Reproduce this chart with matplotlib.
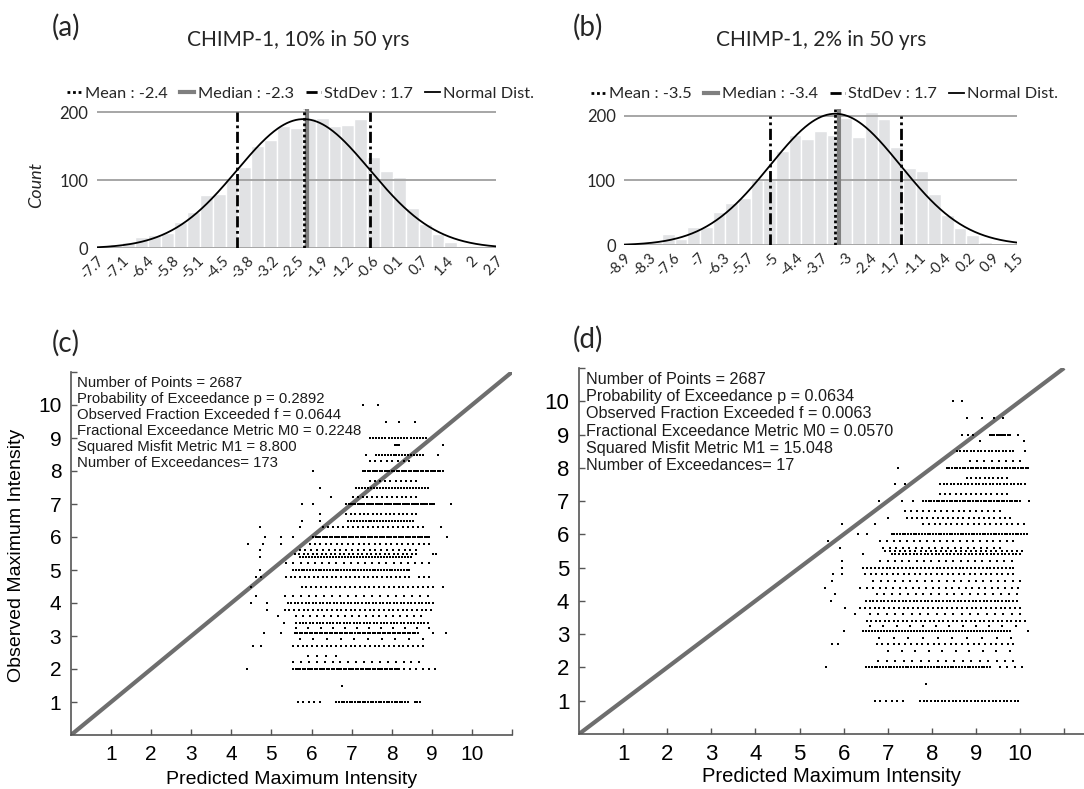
import numpy as np
import matplotlib
matplotlib.use("Agg")
import matplotlib.pyplot as plt
from matplotlib.lines import Line2D

# ---------------- data: histograms ----------------
hist_a_counts = [1, 6, 9, 16, 20, 23, 38, 54, 78, 80, 104, 119, 150, 159, 180, 177,
                 191, 191, 180, 181, 190, 134, 114, 105, 59, 36, 21, 10, 4, 1.5, 1]
hist_a_start = -7.7
hist_a_binw = 0.33
hist_a_ticklabels = ["-7.7", "-7.1", "-6.4", "-5.8", "-5.1", "-4.5", "-3.8", "-3.2", "-2.5",
                     "-1.9", "-1.2", "-0.6", "0.1", "0.7", "1.4", "2", "2.7"]
hist_a_mean, hist_a_median, hist_a_std, hist_a_peak = -2.4, -2.3, 1.7, 190

hist_b_counts = [0.5, 3.5, 5, 17, 10, 29, 28, 51, 66, 73, 101, 100, 145, 170, 164, 177,
                 170, 196, 167, 205, 195, 152, 119, 115, 79, 47, 27, 16, 4.6, 2, 0.5]
hist_b_start = -9.0
hist_b_binw = 0.33
hist_b_ticklabels = ["-8.9", "-8.3", "-7.6", "-7", "-6.3", "-5.7", "-5", "-4.4", "-3.7",
                     "-3", "-2.4", "-1.7", "-1.1", "-0.4", "0.2", "0.9", "1.5"]
hist_b_mean, hist_b_median, hist_b_std, hist_b_peak = -3.5, -3.4, 1.7, 203

# ---------------- data: scatter (c) ----------------
# each observed level: runs of predicted values (start, end, number of dots) + isolated dots
levels_c = [1.0, 1.5, 2.0, 2.2, 2.4, 2.7, 2.9, 3.1, 3.25, 3.4, 3.6, 3.8, 4.0, 4.2, 4.5, 4.8,
            5.0, 5.2, 5.4, 5.5, 5.6, 5.8, 6.0, 6.3, 6.5, 6.7, 7.0, 7.2, 7.5, 7.7, 8.0, 8.3,
            8.5, 8.8, 9.0, 9.5, 10.0]
runs_c = [
    [(5.66, 6.20, 5), (6.62, 8.40, 28), (8.57, 8.71, 3)],
    [],
    [(5.54, 8.19, 45), (8.30, 9.08, 6)],
    [(5.54, 8.69, 17)],
    [(5.90, 6.60, 4)],
    [(5.54, 8.77, 28)],
    [(5.70, 8.77, 10)],
    [(5.58, 8.65, 50)],
    [(5.62, 8.94, 12)],
    [(5.62, 8.90, 40)],
    [(5.62, 8.73, 19)],
    [(5.33, 8.98, 32)],
    [(5.41, 9.02, 42)],
    [(5.33, 8.90, 19)],
    [(5.75, 9.02, 28)],
    [(5.37, 8.44, 28), (8.69, 8.94, 3)],
    [(5.54, 8.44, 42)],
    [(5.37, 8.94, 21)],
    [(5.70, 8.48, 38)],
    [(5.58, 8.61, 28), (9.02, 9.10, 2)],
    [(5.70, 8.61, 21)],
    [(5.95, 8.94, 23)],
    [(6.04, 8.94, 50)],
    [(6.29, 8.77, 21)],
    [(6.91, 8.52, 23)],
    [(6.87, 8.61, 17)],
    [(6.87, 9.06, 40)],
    [(7.03, 8.61, 14)],
    [(7.11, 8.90, 25)],
    [(7.45, 8.61, 10)],
    [(7.28, 9.27, 34)],
    [(7.45, 8.44, 8)],
    [(7.61, 8.77, 17)],
    [(8.07, 8.19, 3)],
    [(7.45, 8.86, 19)],
    [],
    [],
]
singles_c = [
    [], [6.76], [4.39], [], [], [4.54, 4.75], [], [4.81, 5.23, 9.02, 9.35], [], [5.31],
    [5.17], [4.88], [4.50, 4.88], [4.61], [4.50, 9.27], [4.61, 4.75], [4.71], [], [4.71], [],
    [4.71], [4.42, 4.79, 5.25], [4.83, 5.25, 5.54, 9.39], [4.71, 5.70, 9.23], [5.75, 6.20],
    [6.20], [5.75, 6.04, 9.48], [6.49], [6.20], [], [6.04], [], [7.36, 9.15], [9.27], [],
    [7.86, 8.19, 8.57], [7.28, 7.65],
]
stats_c = ["Number of Points = 2687",
           "Probability of Exceedance p = 0.2892",
           "Observed Fraction Exceeded f = 0.0644",
           "Fractional Exceedance Metric M0 = 0.2248",
           "Squared Misfit Metric M1 = 8.800",
           "Number of Exceedances= 173"]

# ---------------- data: scatter (d) ----------------
levels_d = [1.0, 1.5, 2.0, 2.2, 2.5, 2.7, 2.9, 3.1, 3.25, 3.4, 3.6, 3.8, 4.0, 4.2, 4.4, 4.6,
            4.8, 5.0, 5.2, 5.4, 5.5, 5.6, 5.8, 6.0, 6.3, 6.5, 6.7, 7.0, 7.2, 7.5, 7.7, 8.0,
            8.2, 8.5, 8.8, 9.0, 9.5, 10.0]
runs_d = [
    [(6.70, 7.35, 6), (7.73, 9.96, 28)],
    [],
    [(6.51, 9.32, 45), (9.55, 10.04, 4)],
    [(6.79, 9.85, 17)],
    [(7.01, 9.77, 10)],
    [(6.75, 9.85, 25)],
    [(6.80, 9.80, 10)],
    [(6.45, 9.77, 50)],
    [(6.60, 9.90, 12)],
    [(6.52, 10.11, 36)],
    [(6.60, 10.00, 19)],
    [(6.37, 10.00, 34)],
    [(6.51, 9.92, 42)],
    [(6.75, 9.92, 19)],
    [(6.37, 9.96, 25)],
    [(6.67, 10.00, 21)],
    [(6.49, 9.85, 28)],
    [(6.45, 9.85, 40)],
    [(6.83, 9.81, 19)],
    [(7.09, 10.00, 36)],
    [(6.94, 10.04, 28)],
    [(6.90, 9.55, 19)],
    [(6.83, 9.85, 21)],
    [(7.09, 10.15, 50)],
    [(7.81, 10.08, 19)],
    [(7.43, 9.77, 21)],
    [(7.39, 9.55, 17)],
    [(7.81, 10.00, 38)],
    [(8.19, 9.70, 14)],
    [(8.19, 10.11, 25)],
    [(8.79, 9.70, 10)],
    [(8.34, 10.19, 32)],
    [(8.87, 10.00, 8)],
    [(8.56, 9.85, 17)],
    [],
    [(8.68, 8.94, 3), (9.32, 9.77, 10)],
    [],
    [],
]
singles_d = [
    [], [7.86], [5.60], [], [], [5.73, 5.88], [], [6.01, 10.19], [], [],
    [6.26], [6.02], [5.71], [5.80], [5.58], [5.73], [5.77, 5.96], [5.96], [5.96], [6.43],
    [], [5.92], [5.65], [6.33, 6.52], [5.96, 6.71], [7.01], [], [6.81, 7.32, 7.58, 10.21], [],
    [7.17, 7.39], [], [7.24], [], [10.11], [9.09, 10.08], [9.96], [8.79, 9.13, 9.40, 9.62],
    [8.49, 8.68],
]
stats_d = ["Number of Points = 2687",
           "Probability of Exceedance p = 0.0634",
           "Observed Fraction Exceeded f = 0.0063",
           "Fractional Exceedance Metric M0 = 0.0570",
           "Squared Misfit Metric M1 = 15.048",
           "Number of Exceedances= 17"]

# ---------------- styling ----------------
HFONT = ["Lato", "DejaVu Sans"]
SFONT = ["Liberation Sans", "DejaVu Sans"]
BAR_C = "#e1e2e4"
GRID_C = "#a6a6a6"
MED_C = "#7f7f7f"
TXT_C = "#262626"
STD_LS = (0, (4, 1.3, 1, 1.3))
MEAN_LS = (0, (1, 1))

fig = plt.figure(figsize=(10.84, 7.89), dpi=100)
W, H = 1084.0, 789.0


def px_axes(left, top, right, bottom):
    return fig.add_axes([left / W, 1 - bottom / H, (right - left) / W, (bottom - top) / H])


def draw_hist(ax, counts, start, binw, ticklabels, mean, median, std, peak, ytop):
    n = len(counts)
    lefts = start + binw * np.arange(n)
    ax.bar(lefts, counts, width=binw, align="edge", color=BAR_C, edgecolor="white",
           linewidth=1.0, zorder=2)
    for yv in (0, 100, 200):
        ax.axhline(yv, color=GRID_C, lw=1.4, zorder=2.5)
    end = start + binw * n
    xs = np.linspace(start, end, 400)
    ax.plot(xs, peak * np.exp(-0.5 * ((xs - mean) / std) ** 2), color="black", lw=1.3, zorder=5)
    ax.axvline(median, color=MED_C, lw=3.0, zorder=4)
    ax.axvline(mean, color="black", lw=2.0, ls=MEAN_LS, zorder=4.5)
    ax.axvline(mean - std, ymax=200 / ytop, color="black", lw=2.0, ls=STD_LS, zorder=4.5)
    ax.axvline(mean + std, ymax=200 / ytop, color="black", lw=2.0, ls=STD_LS, zorder=4.5)
    ax.set_xlim(start, end)
    ax.set_ylim(0, ytop)
    ax.set_xticks(np.linspace(start, end, len(ticklabels)))
    ax.set_xticklabels(ticklabels, rotation=45, ha="right", rotation_mode="anchor",
                       fontsize=10.5, family=HFONT, color=TXT_C)
    ax.set_yticks([0, 100, 200])
    ax.set_yticklabels(["0", "100", "200"], fontsize=12, family=HFONT, color=TXT_C)
    ax.tick_params(axis="both", length=0)
    ax.tick_params(axis="x", pad=4)
    ax.tick_params(axis="y", pad=6)
    for s in ax.spines.values():
        s.set_visible(False)
    handles = [Line2D([], [], color="black", lw=2.0, ls=MEAN_LS),
               Line2D([], [], color=MED_C, lw=3.0),
               Line2D([], [], color="black", lw=2.0, ls=STD_LS),
               Line2D([], [], color="black", lw=1.3)]
    labels = ["Mean : %.1f" % mean, "Median : %.1f" % median, "StdDev : %.1f" % std, "Normal Dist."]
    ax.legend(handles, labels, loc="lower center", bbox_to_anchor=(0.51, 1.01), ncol=4,
              frameon=False, handlelength=0.9, handletextpad=0.2, columnspacing=0.75,
              prop={"family": HFONT, "size": 11.8}, labelcolor=TXT_C, borderaxespad=0)


ax_a = px_axes(96.7, 108.9, 496, 248.3)
draw_hist(ax_a, hist_a_counts, hist_a_start, hist_a_binw, hist_a_ticklabels,
          hist_a_mean, hist_a_median, hist_a_std, hist_a_peak, 205)
ax_b = px_axes(624, 109.2, 1017, 245.3)
draw_hist(ax_b, hist_b_counts, hist_b_start, hist_b_binw, hist_b_ticklabels,
          hist_b_mean, hist_b_median, hist_b_std, hist_b_peak, 210)
fig.text(36 / W, 1 - 185 / H, "Count", rotation=90, ha="center", va="center",
         fontsize=13, family=HFONT, style="italic", color=TXT_C)

fig.text(298 / W, 1 - 40 / H, "CHIMP-1, 10% in 50 yrs", ha="center", va="center",
         fontsize=15, family=HFONT, color=TXT_C)
fig.text(821 / W, 1 - 40 / H, "CHIMP-1, 2% in 50 yrs", ha="center", va="center",
         fontsize=15, family=HFONT, color=TXT_C)
for lbl, x, y in (("(a)", 52, 27), ("(b)", 573, 27), ("(c)", 52, 343), ("(d)", 573, 339)):
    fig.text(x / W, 1 - y / H, lbl, ha="left", va="center", fontsize=20, family=HFONT, color=TXT_C)


def draw_scatter(ax, levels, runs, singles, stats, xmax, fs_tick, fs_stats):
    xs, ys = [], []
    for lv, rr, ss in zip(levels, runs, singles):
        for (x0, x1, n) in rr:
            pts = np.linspace(x0, x1, n)
            xs.extend(pts)
            ys.extend([lv] * n)
        xs.extend(ss)
        ys.extend([lv] * len(ss))
    ax.plot([0, 11], [0, 11], color="#6e6e6e", lw=3.0, solid_capstyle="butt", zorder=2)
    ax.plot(xs, ys, ls="none", marker="s", ms=1.7, mew=0, color="black", zorder=3)
    ax.set_xlim(0, xmax)
    ax.set_ylim(0, 11)
    ax.set_xticks(range(1, 12))
    ax.set_xticklabels([str(i) for i in range(1, 11)] + [""], family=SFONT, fontsize=fs_tick)
    ax.set_yticks(range(1, 12))
    ax.set_yticklabels([str(i) for i in range(1, 11)] + [""], family=SFONT, fontsize=fs_tick)
    ax.tick_params(direction="in", length=4, width=1, color="#555555", pad=7)
    for s in ("top", "right"):
        ax.spines[s].set_visible(False)
    for s in ("left", "bottom"):
        ax.spines[s].set_color("#555555")
        ax.spines[s].set_linewidth(1.2)
    ax.text(0.014, 0.988, "\n".join(stats), transform=ax.transAxes, ha="left", va="top",
            family=SFONT, fontsize=fs_stats, linespacing=1.17, color="#1a1a1a")


ax_c = px_axes(71, 372, 512, 735)
draw_scatter(ax_c, levels_c, runs_c, singles_c, stats_c, 11, 15, 10.7)
fig.text(291.5 / W, 1 - 779 / H, "Predicted Maximum Intensity", ha="center", va="center",
         family=SFONT, fontsize=14)
fig.text(17 / W, 1 - 555 / H, "Observed Maximum Intensity", rotation=90, ha="center",
         va="center", family=SFONT, fontsize=14)

ax_d = px_axes(579, 368, 1084, 734)
draw_scatter(ax_d, levels_d, runs_d, singles_d, stats_d, 11.45, 16, 11.6)
fig.text(831 / W, 1 - 776 / H, "Predicted Maximum Intensity", ha="center", va="center",
         family=SFONT, fontsize=14.5)

fig.savefig("out.png", dpi=100, facecolor="white")
